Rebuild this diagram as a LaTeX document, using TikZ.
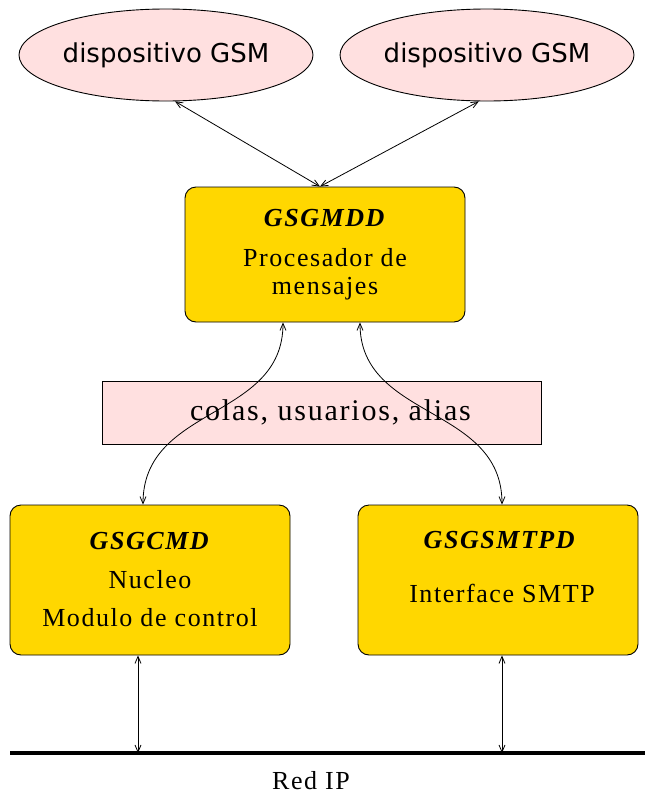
\documentclass[tikz,border=0pt]{standalone}
\usepackage{fontspec}
\setmainfont{Liberation Serif}[LetterSpace=6]
\newfontfamily\gsmfont{DejaVu Sans}
\usetikzlibrary{shapes.geometric,arrows.meta,positioning}
\definecolor{boxgold}{HTML}{FFD700}
\definecolor{softpink}{HTML}{FFE0E0}
\tikzset{
  device/.style={ellipse, draw=black, fill=softpink, line width=0.9pt,
    minimum width=294pt, minimum height=92pt, inner sep=0pt,
    font=\gsmfont\fontsize{26}{28}\selectfont},
  modbox/.style={rectangle, rounded corners=11pt, draw=black, fill=boxgold,
    line width=0.9pt, minimum width=280pt, inner sep=0pt, align=center},
  store/.style={rectangle, draw=black, fill=softpink, line width=0.9pt,
    minimum width=439pt, minimum height=63pt, inner sep=0pt,
    font=\fontsize{30}{32}\selectfont},
  txt/.style={inner sep=0pt, font=\fontsize{26}{28}\selectfont},
  link/.style={draw=black, line width=0.8pt,
    {Straight Barb[length=7pt,width=6pt]}-{Straight Barb[length=7pt,width=6pt]}},
  bus/.style={draw=black, line width=3.5pt}
}
\newcommand{\ttl}[1]{\textbf{\textit{#1}}}
\begin{document}
\begin{tikzpicture}[x=1pt,y=-1pt]
\useasboundingbox (0,0) rectangle (645,795);
% top devices
\node[device] (e1) at (166,55) {dispositivo GSM};
\node[device] (e2) at (487,55) {dispositivo GSM};
% message processor
\node[modbox, minimum height=135pt, font=\fontsize{26}{28}\selectfont] (mdd) at (325,254.5)
  {\ttl{GSGMDD}\\[12pt]Procesador de\\mensajes};
% store
\node[store] (st) at (321.5,412.5) {\hspace*{18pt}colas, usuarios, alias};
% bottom modules
\node[modbox, minimum height=150pt, font=\fontsize{26}{38.5}\selectfont] (core) at (150,580)
  {\ttl{GSGCMD}\\Nucleo\\Modulo de control};
\node[modbox, minimum height=150pt] (smtp) at (498,580) {};
\node[txt] (smtpt) at (500,540) {\ttl{GSGSMTPD}};
\node[txt] (smtpi) at (502,593) {Interface SMTP};
% network
\coordinate (busL) at (10,753);
\coordinate (busR) at (645,753);
\coordinate (tapL) at (138,753);
\coordinate (tapR) at (502,753);
\draw[bus] (busL) -- (busR);
\node[txt] (red) at (311,781) {Red IP};
% connectors
\draw[link] (e1.-79) -- ([xshift=-5pt]mdd.north);
\draw[link] (e2.-100) -- ([xshift=-5pt]mdd.north);
\draw[link] ([xshift=-42pt]mdd.south) .. controls (283,420) and (143,405) .. ([xshift=-7pt]core.north);
\draw[link] ([xshift=35pt]mdd.south) .. controls (360,420) and (502,405) .. ([xshift=4pt]smtp.north);
\draw[link] ([xshift=-12pt]core.south) -- (tapL);
\draw[link] ([xshift=4pt]smtp.south) -- (tapR);
\end{tikzpicture}
\end{document}
